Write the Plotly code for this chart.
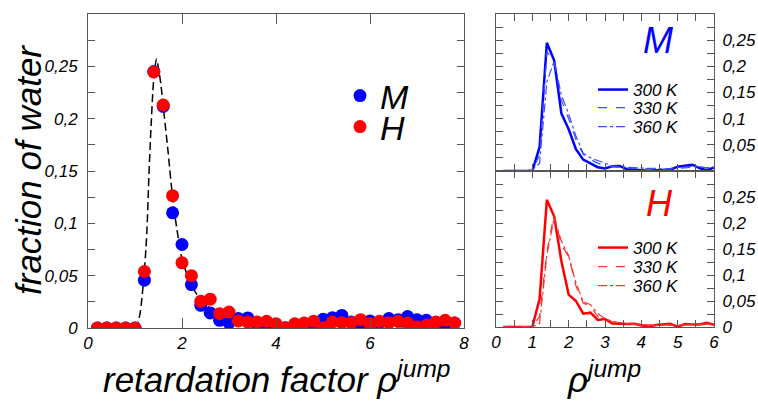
import plotly.graph_objects as go

W, H = 758, 401
FONT = "Liberation Sans, Arial, sans-serif"

# ---------------- data ----------------
rho = [0.2, 0.4, 0.6, 0.8, 1.0, 1.2, 1.4, 1.6, 1.8, 2.0, 2.2, 2.4, 2.6, 2.8, 3.0,
       3.2, 3.4, 3.6, 3.8, 4.0, 4.2, 4.4, 4.6, 4.8, 5.0, 5.2, 5.4, 5.6, 5.8, 6.0,
       6.2, 6.4, 6.6, 6.8, 7.0, 7.2, 7.4, 7.6, 7.8]
frac_M = [0, 0, 0, 0, 0, 0.0457, 0.245, 0.2117, 0.110, 0.0798, 0.0415, 0.0217, 0.0144, 0.0073, 0.0048,
          0.009, 0.0096, 0.0035, 0.0026, 0.001, 0.0003, 0.0016, 0.0026, 0.0026, 0.0083, 0.0099, 0.012, 0.0057, 0.001, 0.0067,
          0.005, 0.009, 0.008, 0.011, 0.008, 0.0073, 0.0035, 0.004, 0.0048]
frac_H = [0, 0, 0, 0, 0, 0.054, 0.2446, 0.213, 0.1264, 0.0623, 0.050, 0.0255, 0.0275, 0.0137, 0.0153,
          0.0067, 0.0057, 0.0057, 0.0064, 0.004, 0.0003, 0.004, 0.0048, 0.0064, 0.0003, 0.0057, 0.005, 0.005, 0.008, 0.004,
          0.0064, 0.005, 0.0064, 0.0048, 0.001, 0.0026, 0.0057, 0.0073, 0.0048]

fit_x = [0.2, 0.6, 0.9, 1.0, 1.05, 1.1, 1.15, 1.2, 1.25, 1.3, 1.35, 1.4, 1.46, 1.5, 1.55, 1.6, 1.7, 1.8, 1.9,
         2.0, 2.1, 2.2, 2.4, 2.6, 2.8, 3.0, 3.4, 4.0, 5.0, 6.0, 7.0, 7.8]
fit_y = [0, 0, 0, 0.001, 0.004, 0.012, 0.03, 0.055, 0.09, 0.15, 0.2, 0.238, 0.257, 0.248, 0.233, 0.212, 0.17, 0.125, 0.092,
         0.066, 0.052, 0.041, 0.027, 0.019, 0.014, 0.011, 0.008, 0.004, 0.002, 0.0015, 0.001, 0.001]

rho_T = rho[:30]
M_300 = frac_M[:30]
M_330 = [0, 0, 0, 0, 0.003, 0.03, 0.228, 0.21, 0.135, 0.10, 0.06, 0.032, 0.022, 0.015, 0.01,
         0.008, 0.007, 0.006, 0.005, 0.005, 0.004, 0.004, 0.003, 0.004, 0.005, 0.006, 0.007, 0.008, 0.006, 0.005]
M_360 = [0, 0, 0, 0, 0.002, 0.015, 0.17, 0.21, 0.145, 0.109, 0.067, 0.034, 0.025, 0.02, 0.015,
         0.01, 0.008, 0.007, 0.006, 0.006, 0.005, 0.005, 0.004, 0.005, 0.006, 0.008, 0.009, 0.008, 0.006, 0.007]
H_300 = frac_H[:30]
H_330 = [0, 0, 0, 0, 0.001, 0.02, 0.145, 0.217, 0.158, 0.135, 0.079, 0.046, 0.04, 0.02, 0.016,
         0.01, 0.008, 0.006, 0.005, 0.004, 0.004, 0.003, 0.003, 0.003, 0.004, 0.004, 0.005, 0.004, 0.005, 0.005]
H_360 = [0, 0, 0, 0, 0, 0.007, 0.138, 0.21, 0.165, 0.137, 0.085, 0.049, 0.043, 0.026, 0.016,
         0.011, 0.008, 0.006, 0.005, 0.004, 0.004, 0.003, 0.003, 0.004, 0.004, 0.004, 0.005, 0.005, 0.006, 0.005]

temps = ["300 K", "330 K", "360 K"]
y_ticks = [0, 0.025, 0.05, 0.075, 0.1, 0.125, 0.15, 0.175, 0.2, 0.225, 0.25, 0.275]
y_text = ["0", "", "0,05", "", "0,1", "", "0,15", "", "0,2", "", "0,25", ""]
y_text_top = [""] + y_text[1:]
xl_ticks = [0, 2, 4, 6, 8]
xr_ticks = [0, 0.5, 1, 1.5, 2, 2.5, 3, 3.5, 4, 4.5, 5, 5.5, 6]
xr_text = ["0", "", "1", "", "2", "", "3", "", "4", "", "5", "", "6"]

BLUE = "#0000ff"
RED = "#ff0000"
BLUE_L = "#3a4dff"
RED_L = "#ff3030"


def px_x(p):
    return p / W


def px_y(p):
    return 1 - p / H


fig = go.Figure()

# left panel
fig.add_trace(go.Scatter(x=fit_x, y=fit_y, mode="lines",
                         line=dict(color="black", width=1.5, dash="8px,4px", shape="spline"),
                         showlegend=False, xaxis="x", yaxis="y"))
fig.add_trace(go.Scatter(x=rho, y=frac_M, mode="markers", name="M", marker=dict(color=BLUE, size=13),
                         xaxis="x", yaxis="y", legend="legend"))
fig.add_trace(go.Scatter(x=rho, y=frac_H, mode="markers", name="H", marker=dict(color=RED, size=13),
                         xaxis="x", yaxis="y", legend="legend2"))

# right panels
styles = [dict(width=2.5, dash="solid"), dict(width=1.2, dash="dash"), dict(width=1.2, dash="dashdot")]
legM = ["legend3", "legend4", "legend5"]
legH = ["legend6", "legend7", "legend8"]
for i, (t, ys, st, lg) in enumerate(zip(temps, [M_300, M_330, M_360], styles, legM)):
    fig.add_trace(go.Scatter(x=rho_T, y=ys, mode="lines", name=t,
                             line=dict(color=BLUE if i == 0 else BLUE_L, **st),
                             xaxis="x2", yaxis="y2", legend=lg))
for i, (t, ys, st, lg) in enumerate(zip(temps, [H_300, H_330, H_360], styles, legH)):
    fig.add_trace(go.Scatter(x=rho_T, y=ys, mode="lines", name=t,
                             line=dict(color=RED if i == 0 else RED_L, **st),
                             xaxis="x3", yaxis="y3", legend=lg))

tickfont = dict(family=FONT, size=17, color="black", style="italic")
common = dict(showline=True, linecolor="#555", linewidth=1, mirror="allticks", ticks="inside",
              tickcolor="#555", showgrid=False, zeroline=False, tickfont=tickfont, automargin=False)


def leg(xp, yp, size):
    return dict(x=px_x(xp), y=px_y(yp), xanchor="left", yanchor="middle", bgcolor="rgba(0,0,0,0)",
                font=dict(family=FONT, size=size, style="italic", color="black"))


layout_legends = {
    "legend": leg(340, 96, 34),
    "legend2": leg(340, 127, 34),
}
for lg, yy in zip(legM, [90, 108, 127]):
    layout_legends[lg] = leg(593, yy, 17)
for lg, yy in zip(legH, [248, 267, 286]):
    layout_legends[lg] = leg(593, yy, 17)


def ann(text, xp, yp, size, color="black", angle=0):
    return dict(text=text, x=px_x(xp), y=px_y(yp), xref="paper", yref="paper", showarrow=False,
                xanchor="center", yanchor="middle", textangle=angle,
                font=dict(family=FONT, size=size, style="italic", color=color))


fig.update_layout(
    width=W, height=H, margin=dict(l=0, r=0, t=0, b=0, autoexpand=False),
    paper_bgcolor="white", plot_bgcolor="white",
    font=dict(family=FONT, color="black"),
    xaxis=dict(domain=[px_x(88), px_x(464)], range=[0, 8], tickvals=xl_ticks, ticklen=10, anchor="y", **common),
    yaxis=dict(domain=[px_y(328), px_y(14)], range=[0, 0.3], tickvals=y_ticks, ticktext=y_text, ticklen=7,
               ticklabelstandoff=6, anchor="x", **common),
    xaxis2=dict(domain=[px_x(496), px_x(714)], range=[0, 6], tickvals=xr_ticks, ticktext=[""] * len(xr_ticks),
                ticklen=7, anchor="y2", **common),
    yaxis2=dict(domain=[px_y(171), px_y(14)], range=[0, 0.3], tickvals=y_ticks, ticktext=y_text_top, ticklen=7,
                ticklabelstandoff=4, side="right", anchor="x2", **common),
    xaxis3=dict(domain=[px_x(496), px_x(714)], range=[0, 6], tickvals=xr_ticks, ticktext=xr_text,
                ticklen=7, anchor="y3", **common),
    yaxis3=dict(domain=[px_y(327), px_y(171)], range=[0, 0.3], tickvals=y_ticks, ticktext=y_text, ticklen=7,
                ticklabelstandoff=4, side="right", anchor="x3", **common),
    annotations=[
        ann("fraction of water", 28, 170, 35, angle=-90),
        dict(text="retardation factor ρ<sup>jump</sup>", x=px_x(276), y=0, xref="paper", yref="paper",
             showarrow=False, xanchor="center", yanchor="bottom",
             font=dict(family=FONT, size=35, style="italic", color="black")),
        dict(text="ρ<sup>jump</sup>", x=px_x(604), y=0, xref="paper", yref="paper",
             showarrow=False, xanchor="center", yanchor="bottom",
             font=dict(family=FONT, size=35, style="italic", color="black")),
        ann("M", 658, 40, 36, BLUE),
        ann("H", 659, 203, 36, RED),
    ],
    **layout_legends,
)

fig.write_html("out.html", config={"displayModeBar": False},
               post_script="document.body.style.margin='0';")
